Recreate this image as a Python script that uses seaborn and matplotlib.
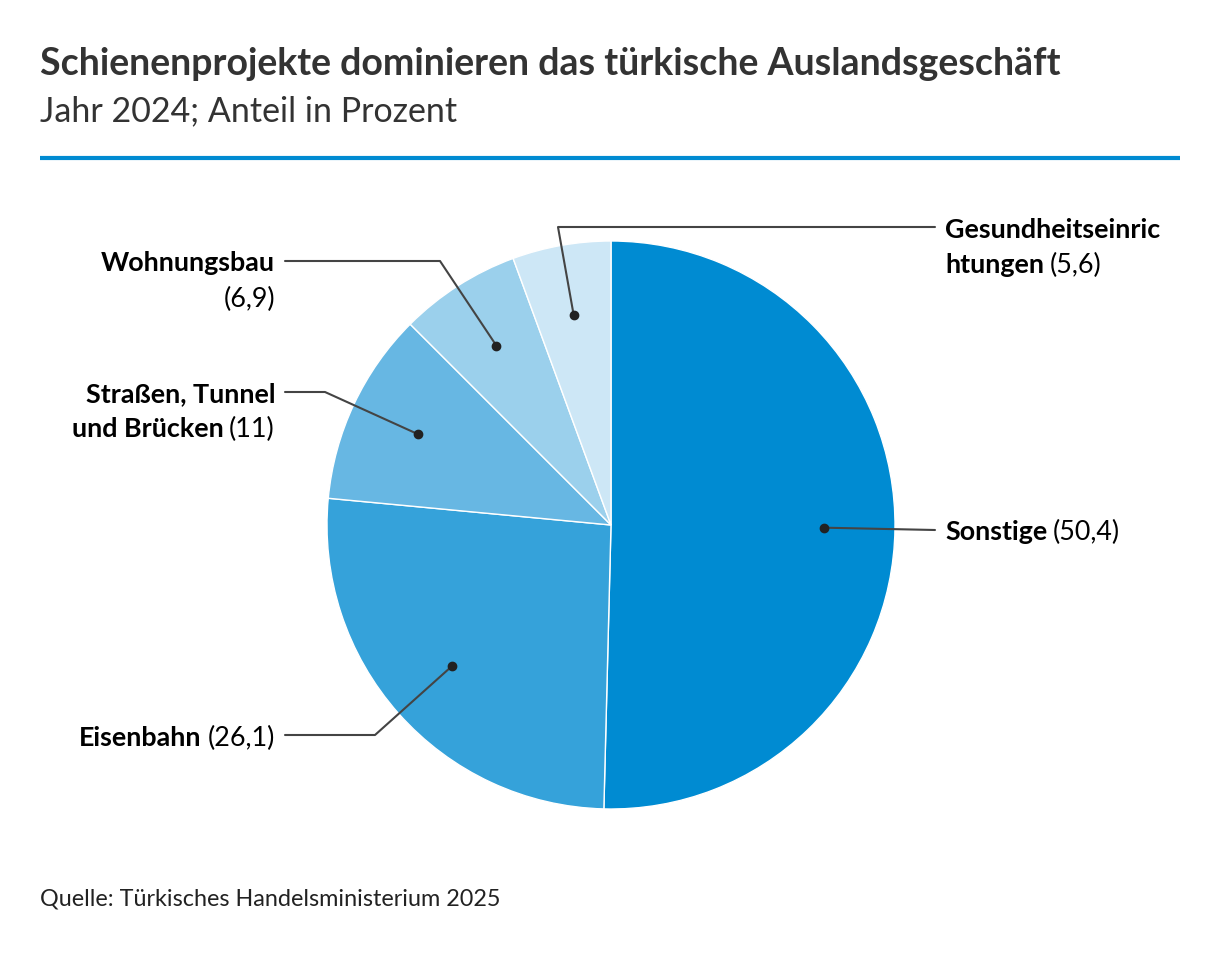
import matplotlib
matplotlib.use("Agg")
import matplotlib.pyplot as plt
import seaborn as sns
import numpy as np

# --- Daten ---
categories = ["Sonstige", "Eisenbahn", "Straßen, Tunnel und Brücken",
              "Wohnungsbau", "Gesundheitseinrichtungen"]
shares = [50.4, 26.1, 11, 6.9, 5.6]
value_labels = ["50,4", "26,1", "11", "6,9", "5,6"]
colors = ["#008bd2", "#35a2da", "#67b7e3", "#9bd0ec", "#cde7f6"]

# Beschriftung: (fetter Teil, normaler Teil) je Zeile
label_lines = [
    [("Sonstige", "(50,4)")],
    [("Eisenbahn", "(26,1)")],
    [("Straßen, Tunnel", ""), ("und Brücken", "(11)")],
    [("Wohnungsbau", ""), ("", "(6,9)")],
    [("Gesundheitseinric", ""), ("htungen", "(5,6)")],
]

W, H = 1220, 954
CX, CY, R = 611, 526, 284

sns.set_theme(style="white")
plt.rcParams["font.family"] = ["Lato", "DejaVu Sans"]

fig = plt.figure(figsize=(W / 100, H / 100), dpi=100)
fig.patch.set_facecolor("white")
ax = fig.add_axes([(CX - R) / W, (H - CY - R) / H, 2 * R / W, 2 * R / H])

wedges, _ = ax.pie(shares, colors=colors, startangle=90, counterclock=False,
                   wedgeprops=dict(edgecolor="white", linewidth=1))
ax.set_xlim(-1, 1)
ax.set_ylim(-1, 1)
ax.axis("off")


def px(x, y):
    return (x - CX) / R, (CY - y) / R


# Führungslinien: Knick- und Endpunkt in Pixeln, Text-Anker
leaders = [
    dict(path=[(935, 531)], tx=945, ty=[540], ha="left"),
    dict(path=[(375, 736), (285, 736)], tx=275, ty=[746], ha="right"),
    dict(path=[(325, 393), (285, 393)], tx=275, ty=[402, 437], ha="right"),
    dict(path=[(440, 262), (285, 262)], tx=275, ty=[271, 307], ha="right"),
    dict(path=[(558, 228), (935, 228)], tx=945, ty=[238, 273], ha="left"),
]

renderer = fig.canvas.get_renderer()
FS = 19.4
gap = 6 / W

for w, ld, lines in zip(wedges, leaders, label_lines):
    mid = np.deg2rad((w.theta1 + w.theta2) / 2)
    dx, dy = 0.75 * np.cos(mid), 0.75 * np.sin(mid)
    pts = [(dx, dy)] + [px(*p) for p in ld["path"]]
    xs, ys = zip(*pts)
    ax.plot(xs, ys, color="#444444", lw=1.5, clip_on=False, zorder=3)
    ax.plot(dx, dy, "o", color="#222222", ms=6, clip_on=False, zorder=4)

    for (bold, reg), ty in zip(lines, ld["ty"]):
        x = ld["tx"] / W
        y = 1 - ty / H
        if ld["ha"] == "left":
            t = fig.text(x, y, bold, fontsize=FS, fontweight="bold",
                         color="black", ha="left", va="baseline")
            bw = t.get_window_extent(renderer).width / W if bold else 0
            if reg:
                fig.text(x + bw + (gap if bold else 0), y, reg, fontsize=FS,
                         color="black", ha="left", va="baseline")
        else:
            rw = 0
            if reg:
                t = fig.text(x, y, reg, fontsize=FS, color="black",
                             ha="right", va="baseline")
                rw = t.get_window_extent(renderer).width / W + gap
            if bold:
                fig.text(x - rw, y, bold, fontsize=FS, fontweight="bold",
                         color="black", ha="right", va="baseline")

# Titel
fig.text(40 / W, 1 - 75 / H, "Schienenprojekte dominieren das türkische Auslandsgeschäft",
         fontsize=27, fontweight="bold", color="#333333", ha="left", va="baseline")
fig.text(40 / W, 1 - 121 / H, "Jahr 2024; Anteil in Prozent",
         fontsize=24.5, color="#333333", ha="left", va="baseline")
fig.add_artist(plt.Line2D([40 / W, 1180 / W], [1 - 159 / H, 1 - 159 / H],
                          color="#008bd2", lw=3, solid_capstyle="butt",
                          transform=fig.transFigure))

fig.text(40 / W, 1 - 906 / H, "Quelle: Türkisches Handelsministerium 2025",
         fontsize=16.8, color="#222222", ha="left", va="baseline")

fig.savefig("out.png", dpi=100, facecolor="white")
